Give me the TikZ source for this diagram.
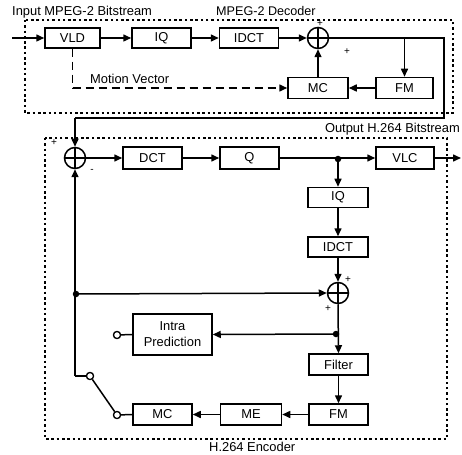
\documentclass[tikz,border=0pt]{standalone}
\usepackage{fontspec}
\setmainfont{Liberation Sans}
\usetikzlibrary{arrows.meta}
\begin{document}
\begin{tikzpicture}[x=1pt,y=-1pt,
  font=\fontsize{12.9}{14}\selectfont,
  ln/.style={line width=1.5pt},
  arr/.style={ln,-{Triangle[length=8pt,width=7pt]}},
  box/.style={draw,line width=1.5pt,minimum height=20pt,inner sep=0pt},
  sumc/.style={draw,circle,line width=1.5pt,minimum size=21pt,inner sep=0pt},
  frame/.style={line width=1.2pt,dash pattern=on 2.5pt off 2.8pt},
  mv/.style={line width=1.5pt,dash pattern=on 8pt off 5pt},
  jdot/.style={circle,fill,inner sep=0pt,minimum size=6.5pt},
  term/.style={circle,draw,fill=white,line width=1.2pt,inner sep=0pt,minimum size=7pt},
  sgn/.style={inner sep=0pt,font=\fontsize{10}{11}\selectfont}]
\useasboundingbox (0,0) rectangle (462,454);
% frames
\draw[frame] (25,20) rectangle (453,113);
\draw[frame] (45,138) rectangle (447,439);
% labels
\node[anchor=base west,inner sep=0pt] (lin) at (12,16) {Input MPEG-2 Bitstream};
\node[anchor=base west,inner sep=0pt,font=\fontsize{12.6}{14}\selectfont] (ldec) at (216,16) {MPEG-2 Decoder};
\node[anchor=base east,inner sep=0pt] (lout) at (460,133) {Output H.264 Bitstream};
\node[anchor=base west,inner sep=0pt] (lenc) at (209,451) {H.264 Encoder};
% decoder
\coordinate (in) at (12,38);
\node[box,minimum width=55pt] (vld) at (72.5,38) {VLD};
\node[box,minimum width=59pt] (iq1) at (161.5,38) {IQ};
\node[box,minimum width=59pt] (idct1) at (249,38) {IDCT};
\node[sumc] (s1) at (318,38) {};
\draw[ln] (s1.north) -- (s1.south) (s1.west) -- (s1.east);
\node[box,minimum width=60pt,minimum height=21pt] (mcd) at (318,88) {MC};
\node[box,minimum width=57pt,minimum height=21pt] (fmd) at (404.5,88) {FM};
\draw[arr] (in) -- (vld.west);
\draw[arr] (vld) -- (iq1);
\draw[arr] (iq1) -- (idct1);
\draw[arr] (idct1) -- (s1.west);
\draw[arr] (mcd) -- (s1.south);
\draw[arr] (fmd) -- (mcd);
\coordinate (tap) at (404.5,38);
\draw[arr] (tap) -- (fmd.north);
\coordinate (c1) at (444,38);
\coordinate (c2) at (444,118);
\coordinate (c3) at (75,118);
\draw[mv] (vld.south) -- (72.5,88) coordinate (mvc);
\draw[mv,-{Triangle[length=8pt,width=7pt]}] (mvc) -- (mcd.west);
\node[anchor=base west,inner sep=0pt] (lmv) at (90,84) {Motion Vector};
\node[sgn] (p1) at (320,23.5) {+};
\node[sgn] (p2) at (347,52) {+};
% encoder
\node[sumc] (s2) at (75,158) {};
\draw[ln] (s2.north) -- (s2.south) (s2.west) -- (s2.east);
\draw[ln] (s1.east) -- (c1) -- (c2) -- (c3);
\draw[arr] (c3) -- (s2.north);
\node[box,minimum width=59pt,minimum height=22pt] (dct) at (152.5,158) {DCT};
\node[box,minimum width=59pt,minimum height=22pt] (q) at (249.5,158) {Q};
\node[box,minimum width=58pt,minimum height=22pt] (vlc) at (405,158) {VLC};
\coordinate (out) at (461,158);
\draw[arr] (s2.east) -- (dct);
\draw[arr] (dct) -- (q);
\draw[arr] (q) -- (vlc);
\draw[arr] (vlc) -- (out);
\node[jdot] (d1) at (338,159) {};
\node[box,minimum width=60pt] (iq2) at (338,197.5) {IQ};
\node[box,minimum width=60pt] (idct2) at (338,247) {IDCT};
\node[sumc] (s3) at (338,293) {};
\draw[ln] (s3.north) -- (s3.south) (s3.west) -- (s3.east);
\draw[arr] (d1.center) -- (iq2.north);
\draw[arr] (iq2) -- (idct2);
\draw[arr] (idct2) -- (s3.north);
\node[jdot] (d2) at (76,294) {};
\draw[arr] (d2.center) -- (s3.west);
\node[box,minimum width=79pt,minimum height=41pt,align=center,font=\fontsize{12.9}{16}\selectfont] (intra) at (172.5,334.5) {Intra\\Prediction};
\node[box,minimum width=59pt,minimum height=21pt] (filt) at (338.5,364.5) {Filter};
\node[box,minimum width=59pt,minimum height=21pt] (fm2) at (338.5,414.5) {FM};
\node[box,minimum width=61pt,minimum height=21pt] (me) at (251,414.5) {ME};
\node[box,minimum width=59pt,minimum height=21pt] (mc2) at (162.5,414.5) {MC};
\draw[arr] (s3.south) -- (filt.north);
\node[jdot] (d3) at (336,334) {};
\draw[arr] (d3.center) -- (intra.east);
\draw[arr] (filt) -- (fm2);
\draw[arr] (fm2) -- (me);
\draw[arr] (me) -- (mc2);
% switch
\node[term] (swi) at (117,335) {};
\node[term] (swm) at (117,415) {};
\node[term] (sw) at (90,376) {};
\coordinate (sl) at (75,376);
\draw[ln] (swi) -- (intra.west);
\draw[ln] (swm) -- (mc2.west);
\draw[ln] (sw) -- (swm);
\draw[ln] (sw) -- (sl);
\draw[arr] (sl) -- (s2.south);
\node[term] at (117,335) {};
\node[term] at (117,415) {};
\node[term] at (90,376) {};
\node[sgn] (p3) at (54,143) {+};
\node[sgn] (m1) at (92,171) {-};
\node[sgn] (p4) at (348,280) {+};
\node[sgn] (p5) at (328,309) {+};
\end{tikzpicture}
\end{document}
